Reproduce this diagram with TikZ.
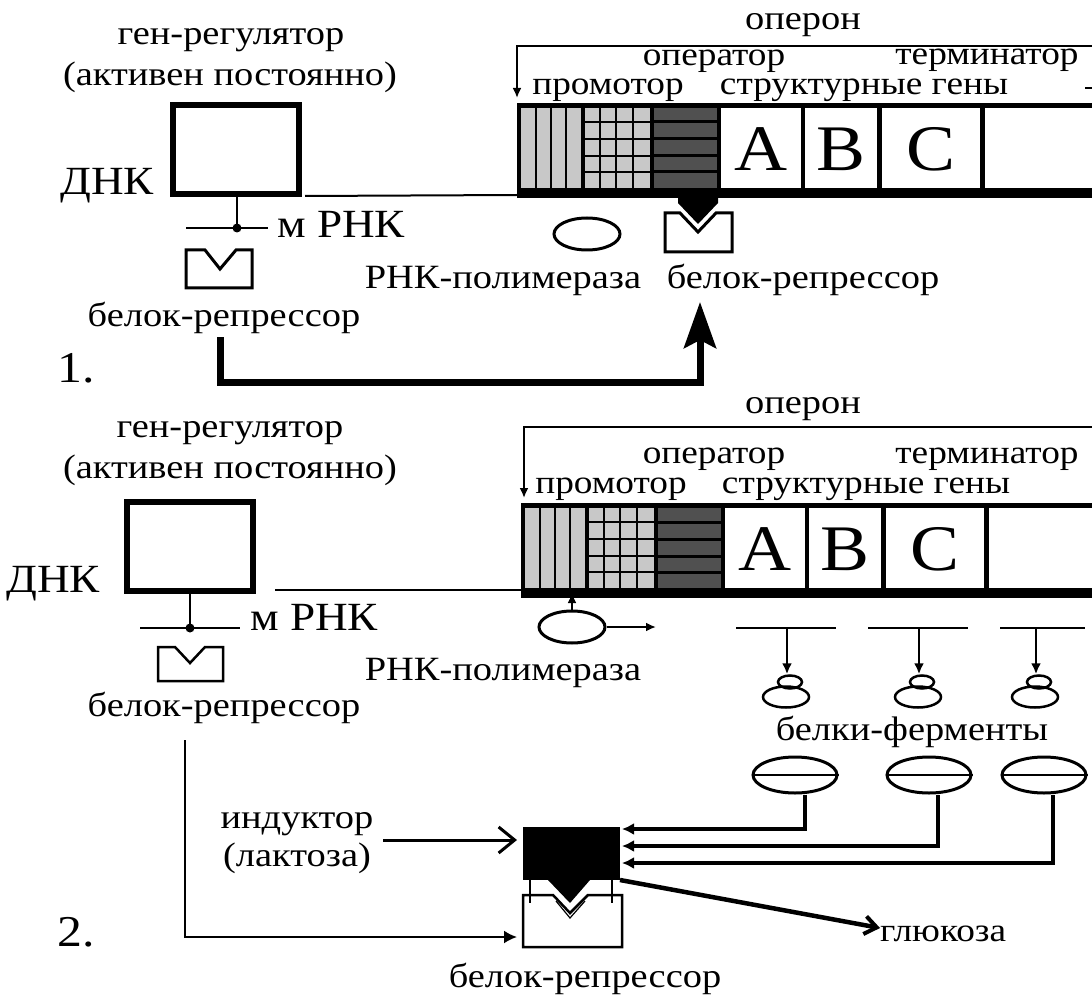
\documentclass[tikz,border=0pt]{standalone}
\usepackage{fontspec}
\setmainfont[FakeStretch=1.13]{Liberation Serif}
\usetikzlibrary{arrows.meta,shapes.geometric}
\definecolor{lgray}{RGB}{200,200,200}
\definecolor{dgray}{RGB}{80,80,80}
\newcommand\opbody{%
 \fill (517,103) rectangle (1100,198);
 \fill[lgray] (521,108) rectangle (581,188);
 \foreach \xx in {536,551,566} \draw[cellline] (\xx,108) -- (\xx,188);
 \fill[lgray] (585,108) rectangle (650,188);
 \foreach \xx in {600,616,633} \draw[cellline] (\xx,108) -- (\xx,188);
 \foreach \yy in {122,139,156,172} \draw[cellline] (585,\yy) -- (650,\yy);
 \fill[dgray] (654,108) rectangle (717,188);
 \foreach \yy in {122,139,156,172} \draw[line width=3pt] (654,\yy) -- (717,\yy);
 \fill[white] (721,108) rectangle (801,188);
 \fill[white] (805,108) rectangle (877,188);
 \fill[white] (882,108) rectangle (980,188);
 \fill[white] (985,108) rectangle (1100,188);
}
\tikzset{
 txt/.style={font=\fontsize{34}{40}\selectfont, inner sep=0pt, anchor=base},
 optxt/.style={font=\fontsize{33}{38}\selectfont, inner sep=0pt, anchor=base},
 smtxt/.style={font=\fontsize{33}{38}\selectfont, inner sep=0pt, anchor=base west},
 bigtxt/.style={font=\fontsize{40}{46}\selectfont, inner sep=0pt, anchor=base west},
 numtxt/.style={font=\fontsize{44}{50}\selectfont, inner sep=0pt, anchor=base},
 gene/.style={font=\fontsize{65}{70}\selectfont, inner sep=0pt},
 thinl/.style={line width=2pt},
 cellline/.style={line width=2.5pt},
 shp/.style={line width=3pt, line join=miter},
 regbox/.style={draw, line width=6pt, minimum width=126pt, minimum height=89pt, inner sep=0pt},
 pol/.style={ellipse, draw, line width=3pt, minimum width=66pt, minimum height=32pt, inner sep=0pt},
 enz/.style={ellipse, draw, line width=3pt, minimum width=84pt, minimum height=36pt, inner sep=0pt},
 snowtop/.style={ellipse, draw, line width=2.5pt, minimum width=24pt, minimum height=13pt, inner sep=0pt},
 snowbot/.style={ellipse, draw, line width=2.5pt, minimum width=46pt, minimum height=21pt, inner sep=0pt},
 smalltip/.style={-{Latex[length=10pt,width=9pt]}},
}
\begin{document}
\begin{tikzpicture}[x=1pt,y=-1pt]
\useasboundingbox (0,0) rectangle (1092,1000);
\clip (0,0) rectangle (1092,1000);
% ================= Part 1 =================
\node[txt] (op1) at (803,30) {оперон};
\coordinate (br1r) at (1100,46);
\coordinate (br1t) at (517,98);
\draw[thinl, smalltip] (br1r) -- (517,46) -- (br1t);
\node[optxt] (oper1) at (714,66) {оператор};
\node[optxt] (term1) at (987,65) {терминатор};
\node[optxt] (prom1) at (608,95) {промотор};
\node[optxt] (str1) at (864,95) {структурные гены};
\draw[thinl] (1085,88) -- (1092,88);
\opbody
\node[gene] (A1) at (761,149) {A};
\node[gene] (B1) at (841,149) {B};
\node[gene] (C1) at (931,149) {C};
\node[txt] (reg1t) at (231,45) {ген-регулятор};
\node[txt] (act1) at (230,86) {(активен постоянно)};
\node[regbox] (reg1) at (236,149.5) {};
\node[bigtxt] (dnk1) at (60,195) {ДНК};
\draw[thinl] (reg1.south east) ++(3,-1) -- (517,195);
\coordinate (m1) at (237,228);
\draw[line width=2.5pt] (reg1.south -| m1) -- (m1);
\draw[line width=2.5pt] (186,228) -- (268,228);
\fill (m1) circle (4.5);
\node[bigtxt] (mrna1) at (277,238) {м РНК};
\draw[shp] (186,250) -- (205,250) -- (220,269) -- (236,250) -- (252,250) -- (252,288) -- (186,288) -- cycle;
\node[txt] (rep1) at (224,326) {белок-репрессор};
\node[pol] (pol1) at (587,234) {};
\node[txt] (pol1t) at (503,288) {РНК-полимераза};
\fill (678,197) -- (718,197) -- (718,203) -- (698,224) -- (678,203) -- cycle;
\draw[shp] (665,213) -- (680,213) -- (698,232) -- (716,213) -- (732,213) -- (732,252) -- (665,252) -- cycle;
\node[txt] (rep1b) at (803,288) {белок-репрессор};
\coordinate (a1s) at (220,337);
\coordinate (a1e) at (700,302);
\draw[line width=7pt, line join=miter, -{Stealth[length=46pt,width=32pt,inset=8pt]}] (a1s) -- (220,382) -- (700,382) -- (a1e);
\node[numtxt] (n1) at (76,382) {1.};
% ================= Part 2 =================
\node[txt] (op2) at (803,413) {оперон};
\coordinate (br2r) at (1100,427);
\coordinate (br2t) at (524,498);
\draw[thinl, smalltip] (br2r) -- (524,427) -- (br2t);
\node[optxt] (oper2) at (714,463) {оператор};
\node[optxt] (term2) at (987,463) {терминатор};
\node[optxt] (prom2) at (611,493) {промотор};
\node[optxt] (str2) at (866,493) {структурные гены};
\begin{scope}[shift={(4,400)}]
\opbody
\end{scope}
\node[gene] (A2) at (765,549) {A};
\node[gene] (B2) at (845,549) {B};
\node[gene] (C2) at (935,549) {C};
\node[txt] (reg2t) at (230,437) {ген-регулятор};
\node[txt] (act2) at (230,478) {(активен постоянно)};
\node[regbox] (reg2) at (190,546) {};
\node[bigtxt] (dnk2) at (6,592) {ДНК};
\draw[thinl] (275,590) -- (521,590);
\coordinate (m2) at (190,628);
\draw[line width=2.5pt] (reg2.south) -- (m2);
\draw[line width=2.5pt] (140,628) -- (240,628);
\fill (m2) circle (4.5);
\node[bigtxt] (mrna2) at (250,630) {м РНК};
\draw[line width=2.5pt] (158,647) -- (175,647) -- (190,663) -- (205,647) -- (223,647) -- (223,681) -- (158,681) -- cycle;
\node[txt] (rep2) at (224,716) {белок-репрессор};
\node[pol] (pol2) at (572,627) {};
\coordinate (pol2up) at (572,593);
\coordinate (pol2r) at (656,627);
\draw[line width=2.5pt, smalltip] (pol2.north) -- (pol2up);
\draw[line width=2.5pt, smalltip] (pol2.east) -- (pol2r);
\node[txt] (pol2t) at (503,680) {РНК-полимераза};
% mRNA lines and enzymes
\draw[line width=2.5pt] (736,628) -- (836,628);
\draw[line width=2.5pt] (868,628) -- (968,628);
\draw[line width=2.5pt] (1000,628) -- (1085,628);
\foreach \xx/\nm in {787/1,919/2,1036/3}{
  \node[snowtop] (st\nm) at (\xx+3,682) {};
  \node[snowbot] (sb\nm) at (\xx-1,697) {};
  \draw[line width=2.5pt, -{Latex[length=11pt,width=10pt]}] (\xx,628) -- (st\nm.north -| \xx,0);
}
\node[txt] (enzt) at (912,740) {белки-ферменты};
\node[enz] (e1) at (795,775) {};
\node[enz] (e2) at (929,775) {};
\node[enz] (e3) at (1044,775) {};
\foreach \nm in {1,2,3} \draw[line width=2.5pt] (e\nm.west) -- (e\nm.east);
% inductor complex
\fill (523,827) rectangle (620,880);
\draw[line width=4pt, line join=miter, -{Latex[length=12pt,width=12pt]}] (e1.south -| 805,0) -- (805,829) -- (622,829);
\draw[line width=4pt, line join=miter, -{Latex[length=12pt,width=12pt]}] (e2.south -| 938,0) -- (938,846) -- (622,846);
\draw[line width=4pt, line join=miter, -{Latex[length=12pt,width=12pt]}] (e3.south -| 1053,0) -- (1053,863) -- (622,863);
\fill (548,880) -- (590,880) -- (570,903) -- cycle;
\draw[line width=2pt] (530,880) -- (530,903);
\draw[line width=2pt] (612,880) -- (612,903);
\draw[line width=2.5pt] (523,895) -- (553,895) -- (570,913) -- (588,895) -- (622,895) -- (622,947) -- (523,947) -- cycle;
\draw[line width=1.2pt] (556,901) -- (570,918) -- (585,901);
\node[txt] (rep3) at (585,987) {белок-репрессор};
\node[txt] (ind) at (297,828) {индуктор};
\node[txt] (lac) at (297,866) {(лактоза)};
\coordinate (indA) at (383,840);
\coordinate (indB) at (517,840);
\draw[line width=3pt, -{Straight Barb[length=16pt,width=26pt,line width=3pt]}] (indA) -- (indB);
\coordinate (r2s) at (185,740);
\coordinate (r2e) at (517,937);
\draw[line width=2pt, -{Latex[length=13pt,width=13pt]}] (r2s) -- (185,937) -- (r2e);
\node[smtxt] (glu) at (880,941) {глюкоза};
\coordinate (gs) at (620,880);
\draw[line width=4.5pt, -{Straight Barb[length=12pt,width=18pt,line width=4pt]}] (gs) -- (glu.west |- 0,928);
\node[numtxt] (n2) at (76,946) {2.};
\end{tikzpicture}
\end{document}
